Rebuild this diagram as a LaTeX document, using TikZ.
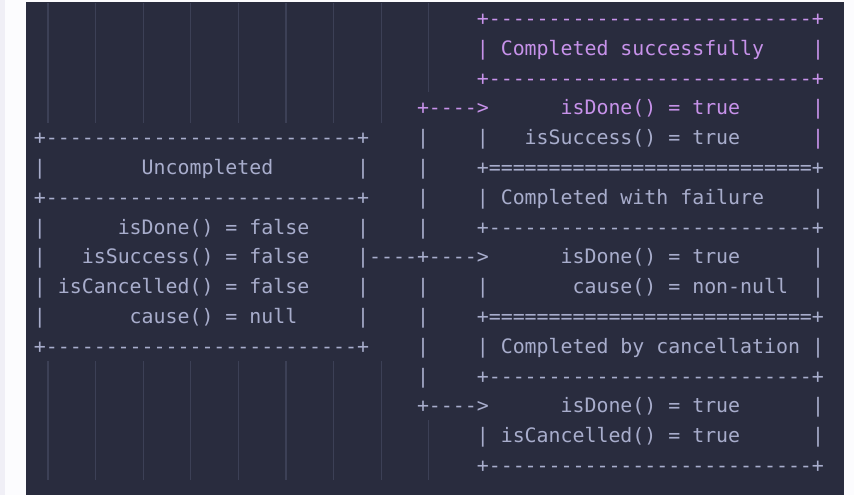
\documentclass[tikz,border=0pt]{standalone}
\usepackage{fontspec}
\setmonofont{DejaVu Sans Mono}
\definecolor{bgdark}{HTML}{292C3E}
\definecolor{asciigray}{HTML}{A8ADCC}
\definecolor{asciipurple}{HTML}{C792EA}
\definecolor{guidecol}{HTML}{3C4056}
\definecolor{stripcol}{HTML}{F0EFF6}
\definecolor{pagewhite}{HTML}{FCFCFE}
\tikzset{
  txt/.style={anchor=base west, inner sep=0pt, outer sep=0pt,
    font={\ttfamily\fontsize{19.88pt}{24pt}\selectfont}},
  g/.style={txt, text=asciigray},
  p/.style={txt, text=asciipurple},
  guide/.style={draw=guidecol, line width=1.2pt}
}
\begin{document}
\begin{tikzpicture}
\useasboundingbox (0pt,0pt) rectangle (854pt,-495pt);
\fill[pagewhite] (0pt,0pt) rectangle (854pt,-495pt);
\fill[stripcol] (0pt,0pt) rectangle (5pt,-495pt);
\fill[bgdark] (26pt,-2pt) rectangle (844pt,-495pt);
% indentation guides
\foreach \k in {0,...,7} {
  \draw[guide] ({48pt+\k*47.6pt},-3pt) -- ({48pt+\k*47.6pt},-123pt);
  \draw[guide] ({48pt+\k*47.6pt},-361pt) -- ({48pt+\k*47.6pt},-480pt);
}
\draw[guide] (428.8pt,-3pt) -- (428.8pt,-92pt);
\draw[guide] (428.8pt,-420pt) -- (428.8pt,-480pt);
\begin{scope}[x=11.97pt, y=-29.8pt, shift={(22pt,-25.5pt)}]
% row 0
\node[p] (r0a) at (38,0) {+---------------------------+};
% row 1
\node[p] (r1a) at (38,1) {|};
\node[p] (r1b) at (40,1) {Completed successfully};
\node[p] (r1c) at (66,1) {|};
% row 2
\node[p] (r2a) at (38,2) {+---------------------------+};
% row 3
\node[p] (r3a) at (33,3) {+---->};
\node[p] (r3b) at (45,3) {isDone() = true};
\node[p] (r3c) at (66,3) {|};
% row 4
\node[g] (r4a) at (1,4) {+--------------------------+};
\node[g] (r4b) at (33,4) {|};
\node[g] (r4c) at (38,4) {|};
\node[g] (r4d) at (42,4) {isSuccess() = true};
\node[p] (r4e) at (66,4) {|};
% row 5
\node[g] (r5a) at (1,5) {|};
\node[g] (r5b) at (10,5) {Uncompleted};
\node[g] (r5c) at (28,5) {|};
\node[g] (r5d) at (33,5) {|};
\node[g] (r5e) at (38,5) {+===========================+};
% row 6
\node[g] (r6a) at (1,6) {+--------------------------+};
\node[g] (r6b) at (33,6) {|};
\node[g] (r6c) at (38,6) {|};
\node[g] (r6d) at (40,6) {Completed with failure};
\node[g] (r6e) at (66,6) {|};
% row 7
\node[g] (r7a) at (1,7) {|};
\node[g] (r7b) at (8,7) {isDone() = false};
\node[g] (r7c) at (28,7) {|};
\node[g] (r7d) at (33,7) {|};
\node[g] (r7e) at (38,7) {+---------------------------+};
% row 8
\node[g] (r8a) at (1,8) {|};
\node[g] (r8b) at (5,8) {isSuccess() = false};
\node[g] (r8c) at (28,8) {|----+---->};
\node[g] (r8d) at (45,8) {isDone() = true};
\node[g] (r8e) at (66,8) {|};
% row 9
\node[g] (r9a) at (1,9) {|};
\node[g] (r9b) at (3,9) {isCancelled() = false};
\node[g] (r9c) at (28,9) {|};
\node[g] (r9d) at (33,9) {|};
\node[g] (r9e) at (38,9) {|};
\node[g] (r9f) at (46,9) {cause() = non-null};
\node[g] (r9g) at (66,9) {|};
% row 10
\node[g] (r10a) at (1,10) {|};
\node[g] (r10b) at (9,10) {cause() = null};
\node[g] (r10c) at (28,10) {|};
\node[g] (r10d) at (33,10) {|};
\node[g] (r10e) at (38,10) {+===========================+};
% row 11
\node[g] (r11a) at (1,11) {+--------------------------+};
\node[g] (r11b) at (33,11) {|};
\node[g] (r11c) at (38,11) {|};
\node[g] (r11d) at (40,11) {Completed by cancellation};
\node[g] (r11e) at (66,11) {|};
% row 12
\node[g] (r12a) at (33,12) {|};
\node[g] (r12b) at (38,12) {+---------------------------+};
% row 13
\node[g] (r13a) at (33,13) {+---->};
\node[g] (r13b) at (45,13) {isDone() = true};
\node[g] (r13c) at (66,13) {|};
% row 14
\node[g] (r14a) at (38,14) {|};
\node[g] (r14b) at (40,14) {isCancelled() = true};
\node[g] (r14c) at (66,14) {|};
% row 15
\node[g] (r15a) at (38,15) {+---------------------------+};
\end{scope}
\end{tikzpicture}
\end{document}
